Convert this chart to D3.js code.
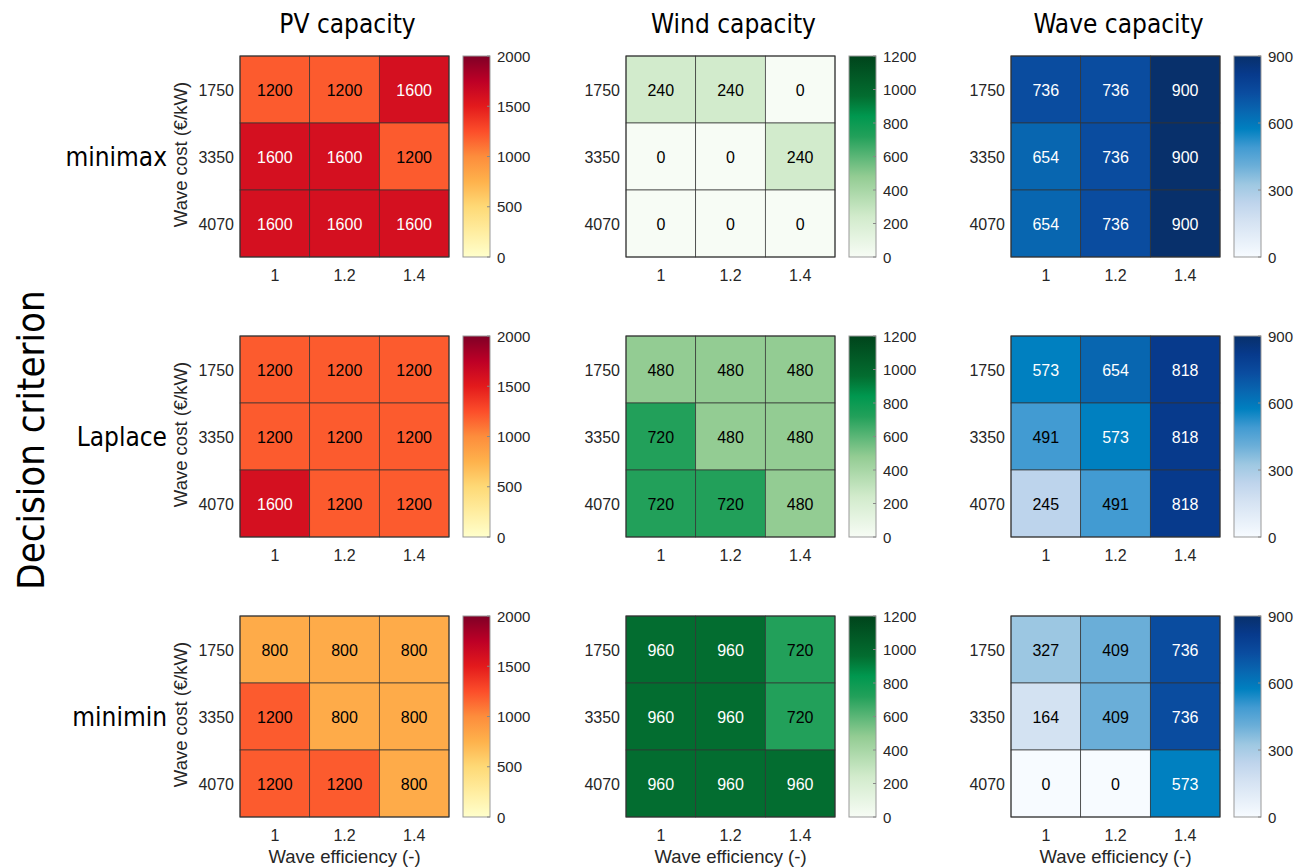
<!DOCTYPE html>
<html>
<head>
<meta charset="utf-8">
<script src="https://cdn.jsdelivr.net/npm/d3@7"></script>
<style>
  body { margin: 0; background: #fff; }
  text { font-family: "Liberation Sans", Arial, sans-serif; }
  .cond { font-family: "DejaVu Sans", sans-serif; font-stretch: condensed; }
</style>
</head>
<body>
<div id="chart"></div>
<script>
var effs = ["1", "1.2", "1.4"];
var costs = ["1750", "3350", "4070"];
var criteria = ["minimax", "Laplace", "minimin"];
var techs = ["PV capacity", "Wind capacity", "Wave capacity"];

// rows = costs, cols = efficiencies
var pvMinimax = [[1200,1200,1600],[1600,1600,1200],[1600,1600,1600]];
var pvLaplace = [[1200,1200,1200],[1200,1200,1200],[1600,1200,1200]];
var pvMinimin = [[800,800,800],[1200,800,800],[1200,1200,800]];
var windMinimax = [[240,240,0],[0,0,240],[0,0,0]];
var windLaplace = [[480,480,480],[720,480,480],[720,720,480]];
var windMinimin = [[960,960,720],[960,960,720],[960,960,960]];
var waveMinimax = [[736,736,900],[654,736,900],[654,736,900]];
var waveLaplace = [[573,654,818],[491,573,818],[245,491,818]];
var waveMinimin = [[327,409,736],[164,409,736],[0,0,573]];

var pvTicks = [0, 500, 1000, 1500, 2000];
var windTicks = [0, 200, 400, 600, 800, 1000, 1200];
var waveTicks = [0, 300, 600, 900];

// colormap stops (fraction of max -> colour)
var pvStops = [0, 0.125, 0.25, 0.375, 0.5, 0.625, 0.75, 0.875, 1];
var pvColors = d3.schemeYlOrRd[9];
var windStops = [0, 0.2, 0.4, 0.6, 0.7, 0.8, 1];
var windColors = ["#f7fcf5", "#d2ebcc", "#93cc93", "#22a05a", "#00984f", "#036d30", "#00441b"];
var waveStops = [0, 0.18, 0.27, 0.36, 0.455, 0.545, 0.637, 0.727, 0.818, 0.909, 1];
var waveColors = ["#f7fbff", "#d4e2f2", "#bed4ec", "#9ec8e2", "#6aaed8", "#429bd2", "#0080c0", "#0866b0", "#0a4c9f", "#073a8c", "#08306b"];

var grids = [
  [pvMinimax, windMinimax, waveMinimax],
  [pvLaplace, windLaplace, waveLaplace],
  [pvMinimin, windMinimin, waveMinimin]
];
var maxes = [2000, 1200, 900];
var tickSets = [pvTicks, windTicks, waveTicks];
var stopSets = [pvStops, windStops, waveStops];
var colorSets = [pvColors, windColors, waveColors];

var svg = d3.select("#chart").append("svg")
  .attr("width", 1303)
  .attr("height", 868);
var defs = svg.append("defs");

var colX = [240, 626, 1011];
var rowY = [56, 336, 616];
var W = 209, H = 201;

function makeColor(stops, colors, max) {
  return d3.scaleLinear()
    .domain(stops.map(function(s){ return s * max; }))
    .range(colors)
    .interpolate(d3.interpolateRgb)
    .clamp(true);
}

for (var c = 0; c < 3; c++) {
  var color = makeColor(stopSets[c], colorSets[c], maxes[c]);

  // vertical gradient for the colorbar, bottom = 0
  var grad = defs.append("linearGradient")
    .attr("id", "cmap" + c)
    .attr("x1", 0).attr("y1", 1).attr("x2", 0).attr("y2", 0);
  grad.selectAll("stop").data(stopSets[c]).enter().append("stop")
    .attr("offset", function(s){ return s; })
    .attr("stop-color", function(s){ return color(s * maxes[c]); });

  svg.append("text")
    .attr("class", "cond")
    .attr("x", colX[c] + W / 2 + 3)
    .attr("y", 33)
    .attr("text-anchor", "middle")
    .attr("font-size", 26)
    .text(techs[c]);

  for (var r = 0; r < 3; r++) {
    var g = svg.append("g").attr("transform", "translate(" + colX[c] + "," + rowY[r] + ")");
    var x = d3.scaleBand().domain(effs).range([0, W]);
    var y = d3.scaleBand().domain(costs).range([0, H]);

    var cells = [];
    grids[r][c].forEach(function(row, i){
      row.forEach(function(v, j){
        cells.push({cost: costs[i], eff: effs[j], v: v});
      });
    });

    g.selectAll("rect.cell").data(cells).enter().append("rect")
      .attr("class", "cell")
      .attr("x", function(d){ return x(d.eff); })
      .attr("y", function(d){ return y(d.cost); })
      .attr("width", x.bandwidth())
      .attr("height", y.bandwidth())
      .attr("fill", function(d){ return color(d.v); })
      .attr("stroke", "#333")
      .attr("stroke-width", 0.7);

    g.selectAll("text.val").data(cells).enter().append("text")
      .attr("class", "val")
      .attr("x", function(d){ return x(d.eff) + x.bandwidth() / 2; })
      .attr("y", function(d){ return y(d.cost) + y.bandwidth() / 2 + 6; })
      .attr("text-anchor", "middle")
      .attr("font-size", 16)
      .attr("fill", function(d){ return d3.lab(color(d.v)).l < 55 ? "#fff" : "#000"; })
      .text(function(d){ return d.v; });

    g.append("rect")
      .attr("width", W).attr("height", H)
      .attr("fill", "none")
      .attr("stroke", "#333")
      .attr("stroke-width", 1);

    // y ticks
    g.selectAll("text.yt").data(costs).enter().append("text")
      .attr("x", -6)
      .attr("y", function(d){ return y(d) + y.bandwidth() / 2 + 6; })
      .attr("text-anchor", "end")
      .attr("font-size", 16)
      .attr("fill", "#262626")
      .text(function(d){ return d; });

    // x ticks
    g.selectAll("text.xt").data(effs).enter().append("text")
      .attr("x", function(d){ return x(d) + x.bandwidth() / 2; })
      .attr("y", H + 24)
      .attr("text-anchor", "middle")
      .attr("font-size", 16)
      .attr("fill", "#262626")
      .text(function(d){ return d; });

    if (c == 0) {
      g.append("text")
        .attr("transform", "translate(-53," + (H / 2 - 2) + ") rotate(-90)")
        .attr("text-anchor", "middle")
        .attr("font-size", 18.5)
        .attr("fill", "#262626")
        .text("Wave cost (€/kW)");
      svg.append("text")
        .attr("class", "cond")
        .attr("x", 167)
        .attr("y", rowY[r] + H / 2 + 9)
        .attr("text-anchor", "end")
        .attr("font-size", 26)
        .text(criteria[r]);
    }
    if (r == 2) {
      g.append("text")
        .attr("x", W / 2)
        .attr("y", H + 46)
        .attr("text-anchor", "middle")
        .attr("font-size", 18.5)
        .attr("fill", "#262626")
        .text("Wave efficiency (-)");
    }

    // colorbar
    var cb = g.append("g").attr("transform", "translate(" + (W + 14) + ",0)");
    var cy = d3.scaleLinear().domain([0, maxes[c]]).range([H, 0]);
    cb.append("rect")
      .attr("width", 27).attr("height", H)
      .attr("fill", "url(#cmap" + c + ")")
      .attr("stroke", "#999")
      .attr("stroke-width", 1);
    cb.selectAll("line.tk").data(tickSets[c]).enter().append("line")
      .attr("x1", 24).attr("x2", 27)
      .attr("y1", function(d){ return cy(d); })
      .attr("y2", function(d){ return cy(d); })
      .attr("stroke", "#888");
    cb.selectAll("text.tl").data(tickSets[c]).enter().append("text")
      .attr("x", 34)
      .attr("y", function(d){ return cy(d) + 5.5; })
      .attr("font-size", 15)
      .attr("fill", "#262626")
      .text(function(d){ return d; });
  }
}

svg.append("text")
  .attr("class", "cond")
  .attr("transform", "translate(44,440) rotate(-90)")
  .attr("text-anchor", "middle")
  .attr("font-size", 38)
  .text("Decision criterion");
</script>
</body>
</html>
